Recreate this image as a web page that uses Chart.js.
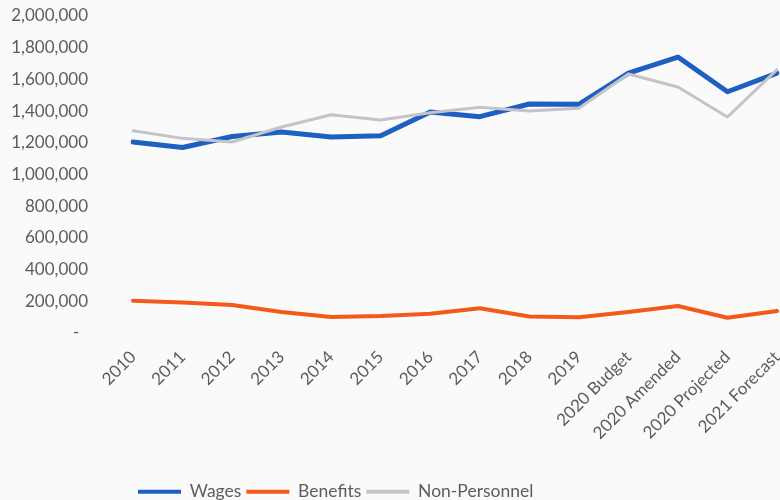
<!DOCTYPE html>
<html>
<head>
<meta charset="utf-8">
<script src="https://cdn.jsdelivr.net/npm/chart.js@4/dist/chart.umd.min.js"></script>
<style>
  html, body { margin: 0; padding: 0; background: #fafafa; }
  #wrap { width: 780px; height: 500px; position: relative; }
</style>
</head>
<body>
<div id="wrap"><canvas id="c" width="780" height="500"></canvas></div>
<script>
// Spending by category, actuals 2010-2019 plus 2020/2021 budget figures
const categories = ['2010', '2011', '2012', '2013', '2014', '2015', '2016', '2017', '2018', '2019',
  '2020 Budget', '2020 Amended', '2020 Projected', '2021 Forecast'];
const wages = [1205000, 1170000, 1240000, 1268000, 1237000, 1245000, 1394000, 1365000, 1445000, 1443000,
  1640000, 1741000, 1522000, 1640000];
const benefits = [203000, 192000, 177000, 132000, 101000, 108000, 122000, 156000, 104000, 100000,
  132000, 170000, 96000, 139000];
const nonPersonnel = [1276000, 1228000, 1205000, 1300000, 1377000, 1344000, 1390000, 1425000, 1400000, 1418000,
  1634000, 1552000, 1363000, 1662000];
const yTicks = { min: 0, max: 2000000, step: 200000 };

const FONT = 'Lato, "Open Sans", sans-serif';
const TEXT = '#5d5d5d';
const PLOT_BOTTOM = 333;

const background = {
  id: 'background',
  beforeDraw(chart) {
    const ctx = chart.ctx;
    ctx.save();
    ctx.fillStyle = '#fafafa';
    ctx.fillRect(0, 0, chart.width, chart.height);
    ctx.restore();
  }
};

// place the legend row low and left-of-centre under the plot
const legendPlacement = {
  id: 'legendPlacement',
  afterLayout(chart) {
    const lg = chart.legend;
    const h = lg.bottom - lg.top;
    lg.left = 133;
    lg.right = 720;
    lg.top = 478;
    lg.bottom = 478 + h;
  }
};

new Chart(document.getElementById('c'), {
  type: 'line',
  data: {
    labels: categories,
    datasets: [
      { label: 'Wages', data: wages, borderColor: '#1e5fc2', backgroundColor: '#1e5fc2',
        borderWidth: 5, order: 3 },
      { label: 'Benefits', data: benefits, borderColor: '#f4591a', backgroundColor: '#f4591a',
        borderWidth: 4, order: 2 },
      { label: 'Non-Personnel', data: nonPersonnel, borderColor: '#c4c4c8', backgroundColor: '#c4c4c8',
        borderWidth: 3, order: 1 }
    ]
  },
  options: {
    responsive: false,
    animation: false,
    devicePixelRatio: 1,
    layout: { padding: { top: 16, right: 3, left: 0, bottom: 0 } },
    elements: {
      point: { radius: 0, hoverRadius: 0 },
      line: { tension: 0, borderCapStyle: 'round', borderJoinStyle: 'round', fill: false }
    },
    scales: {
      x: {
        offset: false,
        grid: { display: false, drawTicks: false },
        border: { display: false },
        ticks: {
          autoSkip: false, minRotation: 45, maxRotation: 45, padding: 14,
          color: TEXT, font: { family: FONT, size: 17 }
        },
        afterFit(s) {
          const lgH = s.chart.legend ? s.chart.legend.height : 36;
          s.height = s.chart.height - PLOT_BOTTOM - lgH;
          s.paddingLeft = 0;
          s.paddingRight = 0;
        }
      },
      y: {
        min: yTicks.min, max: yTicks.max,
        grid: { display: false, drawTicks: false },
        border: { display: false },
        ticks: {
          stepSize: yTicks.step, padding: 45,
          color: TEXT, font: { family: FONT, size: 17 },
          callback: v => v === 0 ? '-  ' : v.toLocaleString('en-US')
        },
        afterFit(s) { s.width = 133; s.paddingTop = 8; s.paddingBottom = 8; }
      }
    },
    plugins: {
      tooltip: { enabled: false },
      legend: {
        position: 'bottom',
        align: 'start',
        labels: {
          boxWidth: 43, boxHeight: 4, padding: 5,
          color: TEXT, font: { family: FONT, size: 17.5 },
          sort: (a, b) => a.datasetIndex - b.datasetIndex,
          generateLabels(chart) {
            return Chart.defaults.plugins.legend.labels.generateLabels(chart).map(item => {
              item.lineWidth = 0;
              item.fillStyle = item.strokeStyle;
              return item;
            });
          }
        }
      }
    }
  },
  plugins: [background, legendPlacement]
});
</script>
</body>
</html>
